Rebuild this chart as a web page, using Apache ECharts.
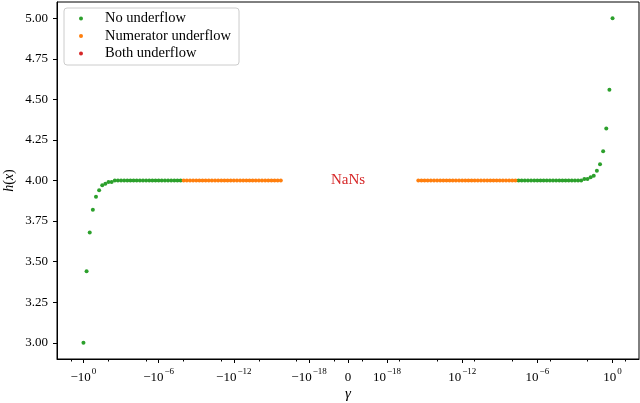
<!DOCTYPE html>
<html>
<head>
<meta charset="utf-8">
<script src="https://cdn.jsdelivr.net/npm/echarts@6/dist/echarts.min.js"></script>
<style>html,body{margin:0;padding:0;background:#fff}#c{width:640px;height:403px}</style>
</head>
<body>
<div id="c"></div>
<script>
// ---- data (gamma values and h(x) values) ----
const leftGreenX = [-1, -5.62e-1, -3.16e-1, -1.78e-1, -1e-1, -5.62e-2, -3.16e-2, -1.78e-2, -1e-2, -5.62e-3, -3.16e-3, -1.78e-3,
  -1e-3, -5.62e-4, -3.16e-4, -1.78e-4, -1e-4, -5.62e-5, -3.16e-5, -1.78e-5, -1e-5, -5.62e-6, -3.16e-6, -1.78e-6,
  -1e-6, -5.62e-7, -3.16e-7, -1.78e-7, -1e-7, -5.62e-8, -3.16e-8, -1.78e-8];
const leftGreenY = [3.00, 3.44, 3.68, 3.82, 3.90, 3.94, 3.97, 3.98, 3.99, 3.99, 4.00, 4.00,
  4.00, 4.00, 4.00, 4.00, 4.00, 4.00, 4.00, 4.00, 4.00, 4.00, 4.00, 4.00,
  4.00, 4.00, 4.00, 4.00, 4.00, 4.00, 4.00, 4.00];
const leftOrangeX = [-1e-8, -5.62e-9, -3.16e-9, -1.78e-9, -1e-9, -5.62e-10, -3.16e-10, -1.78e-10,
  -1e-10, -5.62e-11, -3.16e-11, -1.78e-11, -1e-11, -5.62e-12, -3.16e-12, -1.78e-12,
  -1e-12, -5.62e-13, -3.16e-13, -1.78e-13, -1e-13, -5.62e-14, -3.16e-14, -1.78e-14,
  -1e-14, -5.62e-15, -3.16e-15, -1.78e-15, -1e-15, -5.62e-16, -3.16e-16, -1.78e-16];
const leftOrangeY = [4, 4, 4, 4, 4, 4, 4, 4, 4, 4, 4, 4, 4, 4, 4, 4, 4, 4, 4, 4, 4, 4, 4, 4, 4, 4, 4, 4, 4, 4, 4, 4];
const rightGreenX = [1, 5.62e-1, 3.16e-1, 1.78e-1, 1e-1, 5.62e-2, 3.16e-2, 1.78e-2, 1e-2, 5.62e-3, 3.16e-3, 1.78e-3,
  1e-3, 5.62e-4, 3.16e-4, 1.78e-4, 1e-4, 5.62e-5, 3.16e-5, 1.78e-5, 1e-5, 5.62e-6, 3.16e-6, 1.78e-6,
  1e-6, 5.62e-7, 3.16e-7, 1.78e-7, 1e-7, 5.62e-8, 3.16e-8];
const rightGreenY = [5.00, 4.56, 4.32, 4.18, 4.10, 4.06, 4.03, 4.02, 4.01, 4.01, 4.00, 4.00,
  4.00, 4.00, 4.00, 4.00, 4.00, 4.00, 4.00, 4.00, 4.00, 4.00, 4.00, 4.00,
  4.00, 4.00, 4.00, 4.00, 4.00, 4.00, 4.00];
const rightOrangeX = [1.78e-8, 1e-8, 5.62e-9, 3.16e-9, 1.78e-9, 1e-9, 5.62e-10, 3.16e-10, 1.78e-10,
  1e-10, 5.62e-11, 3.16e-11, 1.78e-11, 1e-11, 5.62e-12, 3.16e-12, 1.78e-12,
  1e-12, 5.62e-13, 3.16e-13, 1.78e-13, 1e-13, 5.62e-14, 3.16e-14, 1.78e-14,
  1e-14, 5.62e-15, 3.16e-15, 1.78e-15, 1e-15, 5.62e-16, 3.16e-16];
const rightOrangeY = [4, 4, 4, 4, 4, 4, 4, 4, 4, 4, 4, 4, 4, 4, 4, 4, 4, 4, 4, 4, 4, 4, 4, 4, 4, 4, 4, 4, 4, 4, 4, 4];
const bothX = [];
const bothY = [];
const nanLabelX = [0];
const nanLabelY = [4.0];
const nanLabelText = 'NaNs';

const seriesNames = ['No underflow', 'Numerator underflow', 'Both underflow'];
const xMajorTicks = [-1, -1e-6, -1e-12, -1e-18, 0, 1e-18, 1e-12, 1e-6, 1];
const xMajorLabels = ['{b|\u221210}{s|0}', '{b|\u221210}{s|\u22126}', '{b|\u221210}{s|\u221212}', '{b|\u221210}{s|\u221218}', '{b|0}',
  '{b|10}{s|\u221218}', '{b|10}{s|\u221212}', '{b|10}{s|\u22126}', '{b|10}{s|0}'];
const xMinorTicks = [-10, -1e-2, -1e-5, -1e-8, -1e-11, -1e-14, -1e-17, -1e-20,
  1e-20, 1e-17, 1e-14, 1e-11, 1e-8, 1e-5, 1e-2, 10];
const yTicks = [3.00, 3.25, 3.50, 3.75, 4.00, 4.25, 4.50, 4.75, 5.00];

// ---- symlog transform (linthresh 1e-20, linscale 1, base 10) ----
const LINTHRESH = 1e-20;
const LINSCALE_ADJ = 1 / (1 - 1 / 10);
function T(x) {
  const a = Math.abs(x);
  if (a <= LINTHRESH) return x / LINTHRESH * LINSCALE_ADJ;
  return Math.sign(x) * (LINSCALE_ADJ + Math.log10(a / LINTHRESH));
}
const allX = leftGreenX.concat(leftOrangeX, rightGreenX, rightOrangeX);
const tMin = Math.min(...allX.map(T)), tMax = Math.max(...allX.map(T));
const tSpan = tMax - tMin;
const xMin = tMin - 0.05 * tSpan, xMax = tMax + 0.05 * tSpan;
const allY = leftGreenY.concat(leftOrangeY, rightGreenY, rightOrangeY);
const yLo = Math.min(...allY), yHi = Math.max(...allY);
const yMin = yLo - 0.05 * (yHi - yLo), yMax = yHi + 0.05 * (yHi - yLo);

function pts(xs, ys) { return xs.map((x, i) => [T(x), ys[i]]); }

const SERIF = 'Liberation Serif';
const C_GREEN = '#2ca02c', C_ORANGE = '#ff7f0e', C_RED = '#d62728';
const majorT = xMajorTicks.map(T);

const chart = echarts.init(document.getElementById('c'), null, {renderer: 'canvas'});
const dot = {type: 'scatter', symbol: 'circle', symbolSize: 4, animation: false};
chart.setOption({
  animation: false,
  backgroundColor: '#fff',
  grid: {left: 57, right: 1, top: 2, bottom: 44, containLabel: false, outerBoundsMode: 'none',
    show: true, borderColor: '#000', borderWidth: 1, backgroundColor: 'transparent'},
  xAxis: [{
    type: 'value', min: xMin, max: xMax,
    name: '\u03b3', nameLocation: 'middle', nameGap: 28, nameMoveOverlap: false,
    nameTextStyle: {fontFamily: SERIF, fontStyle: 'italic', fontSize: 15, color: '#000'},
    axisLine: {show: true, onZero: false, lineStyle: {color: '#000', width: 1}},
    axisTick: {show: true, customValues: majorT, length: 4, lineStyle: {color: '#000', width: 1}},
    axisLabel: {
      show: true, customValues: majorT, margin: 8, color: '#000', fontFamily: SERIF,
      formatter: function (v) {
        for (let i = 0; i < majorT.length; i++) if (Math.abs(majorT[i] - v) < 1e-6) return xMajorLabels[i];
        return '';
      },
      rich: {
        b: {fontFamily: SERIF, fontSize: 13, color: '#000', verticalAlign: 'bottom', lineHeight: 17},
        s: {fontFamily: SERIF, fontSize: 9, color: '#000', verticalAlign: 'top', lineHeight: 9, padding: [0, 0, 0, 1]}
      }
    },
    splitLine: {show: false}
  }, {
    type: 'value', min: xMin, max: xMax, position: 'bottom',
    axisLine: {show: false, onZero: false},
    axisTick: {show: true, customValues: xMinorTicks.map(T), length: 2.5, lineStyle: {color: '#000', width: 1}},
    axisLabel: {show: false},
    splitLine: {show: false}
  }],
  yAxis: {
    type: 'value', min: yMin, max: yMax,
    name: '{i|h}{n|(}{i|x}{n|)}', nameLocation: 'middle', nameGap: 41, nameRotate: 90, nameMoveOverlap: false,
    nameTextStyle: {rich: {
      i: {fontFamily: SERIF, fontStyle: 'italic', fontSize: 14, color: '#000'},
      n: {fontFamily: SERIF, fontSize: 14, color: '#000'}
    }},
    axisLine: {show: true, onZero: false, lineStyle: {color: '#000', width: 1}},
    axisTick: {show: true, customValues: yTicks, length: 4, lineStyle: {color: '#000', width: 1}},
    axisLabel: {show: true, customValues: yTicks, margin: 9, color: '#000', fontFamily: SERIF, fontSize: 13,
      formatter: v => v.toFixed(2)},
    splitLine: {show: false}
  },
  legend: {
    data: seriesNames, orient: 'vertical', left: 64, top: 8,
    padding: [3, 8, 4, 15], itemGap: 2.5, itemWidth: 4, itemHeight: 4, icon: 'circle',
    backgroundColor: 'rgba(255,255,255,0.8)', borderColor: '#cccccc', borderWidth: 1, borderRadius: 3,
    textStyle: {fontFamily: SERIF, fontSize: 14.5, color: '#000', lineHeight: 15, padding: [0, 0, 0, 17]}
  },
  series: [
    Object.assign({}, dot, {name: seriesNames[0], itemStyle: {color: C_GREEN, opacity: 1}, data: pts(leftGreenX, leftGreenY)}),
    Object.assign({}, dot, {name: seriesNames[0], itemStyle: {color: C_GREEN, opacity: 1}, data: pts(rightGreenX, rightGreenY)}),
    Object.assign({}, dot, {name: seriesNames[1], itemStyle: {color: C_ORANGE, opacity: 1}, data: pts(leftOrangeX, leftOrangeY)}),
    Object.assign({}, dot, {name: seriesNames[1], itemStyle: {color: C_ORANGE, opacity: 1}, data: pts(rightOrangeX, rightOrangeY)}),
    Object.assign({}, dot, {name: seriesNames[2], itemStyle: {color: C_RED, opacity: 1}, data: pts(bothX, bothY)}),
    {type: 'scatter', name: 'nan-label', symbolSize: 0, silent: true, itemStyle: {opacity: 1},
      data: pts(nanLabelX, nanLabelY),
      label: {show: true, position: 'inside', formatter: nanLabelText, color: C_RED, opacity: 1,
        fontFamily: SERIF, fontSize: 15}}
  ]
});
</script>
</body>
</html>
